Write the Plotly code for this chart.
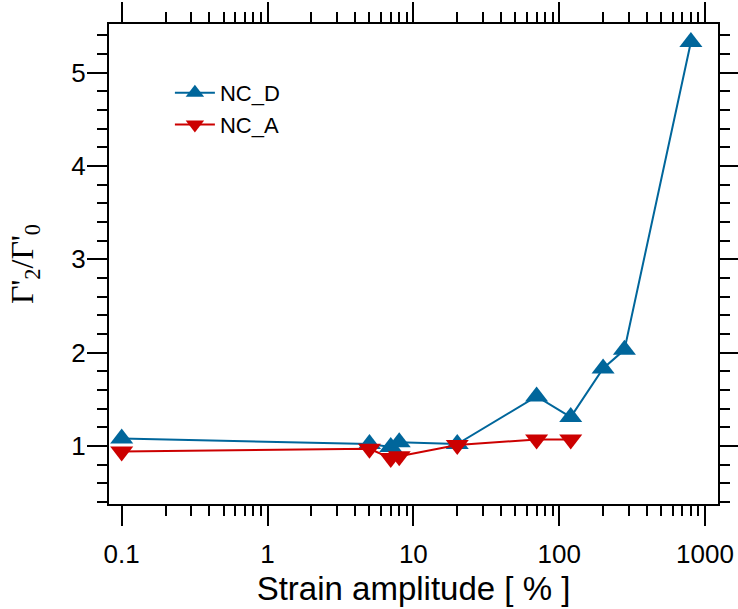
import plotly.graph_objects as go

# Data
strain_D = [0.1, 5, 7, 8, 20, 70, 120, 200, 280, 800]
ratio_D = [1.08, 1.02, 0.99, 1.04, 1.02, 1.53, 1.31, 1.83, 2.03, 5.33]
strain_A = [0.1, 5, 7, 8, 20, 70, 120]
ratio_A = [0.94, 0.97, 0.87, 0.89, 1.01, 1.07, 1.07]

x_tickvals = [0.1, 1, 10, 100, 1000]
x_ticktext = ["0.1", "1", "10", "100", "1000"]
x_minor = [m * 10 ** e for e in range(-1, 3) for m in range(2, 10)]
y_tickvals = [1, 2, 3, 4, 5]

BLUE = "#00669b"
RED = "#cc0000"

fig = go.Figure()
fig.add_trace(go.Scatter(
    x=strain_D, y=ratio_D, name="NC_D", mode="lines+markers",
    line=dict(color=BLUE, width=2),
    marker=dict(symbol="triangle-up", size=20, color=BLUE),
))
fig.add_trace(go.Scatter(
    x=strain_A, y=ratio_A, name="NC_A", mode="lines+markers",
    line=dict(color=RED, width=2),
    marker=dict(symbol="triangle-down", size=20, color=RED),
))

axis_common = dict(
    showline=True, linecolor="black", linewidth=2, mirror="ticks",
    ticks="outside", ticklen=20, tickwidth=2, tickcolor="black",
    showgrid=False, zeroline=False, automargin=False,
    tickfont=dict(family="Liberation Sans, Arial", size=26, color="black"),
)

fig.update_xaxes(
    type="log", range=[-1.087, 3.089],
    tickvals=x_tickvals, ticktext=x_ticktext,
    ticklabelstandoff=6,
    minor=dict(tickvals=x_minor, ticks="outside", ticklen=10, tickwidth=2,
               tickcolor="black", showgrid=False),
    title=dict(text="Strain amplitude [ % ]", standoff=9,
               font=dict(family="Liberation Sans, Arial", size=33, color="black")),
    **axis_common,
)
fig.update_yaxes(
    range=[0.378, 5.522],
    tickvals=y_tickvals,
    ticklabelstandoff=-4,
    minor=dict(dtick=0.2, ticks="outside", ticklen=10, tickwidth=2,
               tickcolor="black", showgrid=False),
    title=dict(text="Γ'<sub>2</sub>/Γ'<sub>0</sub>", standoff=28,
               font=dict(family="Liberation Serif, Times New Roman", size=32, color="black")),
    **axis_common,
)

fig.update_layout(
    width=738, height=609,
    margin=dict(l=109, r=20, t=24, b=105),
    plot_bgcolor="white", paper_bgcolor="white",
    legend=dict(
        x=0.10, y=0.90, xanchor="left", yanchor="top",
        font=dict(family="Liberation Sans, Arial", size=22, color="black"),
        bgcolor="rgba(0,0,0,0)", itemwidth=40, tracegroupgap=0,
    ),
)

fig.write_html("out.html", config={"displayModeBar": False},
               post_script="document.body.style.margin='0';document.body.style.overflow='hidden';")
